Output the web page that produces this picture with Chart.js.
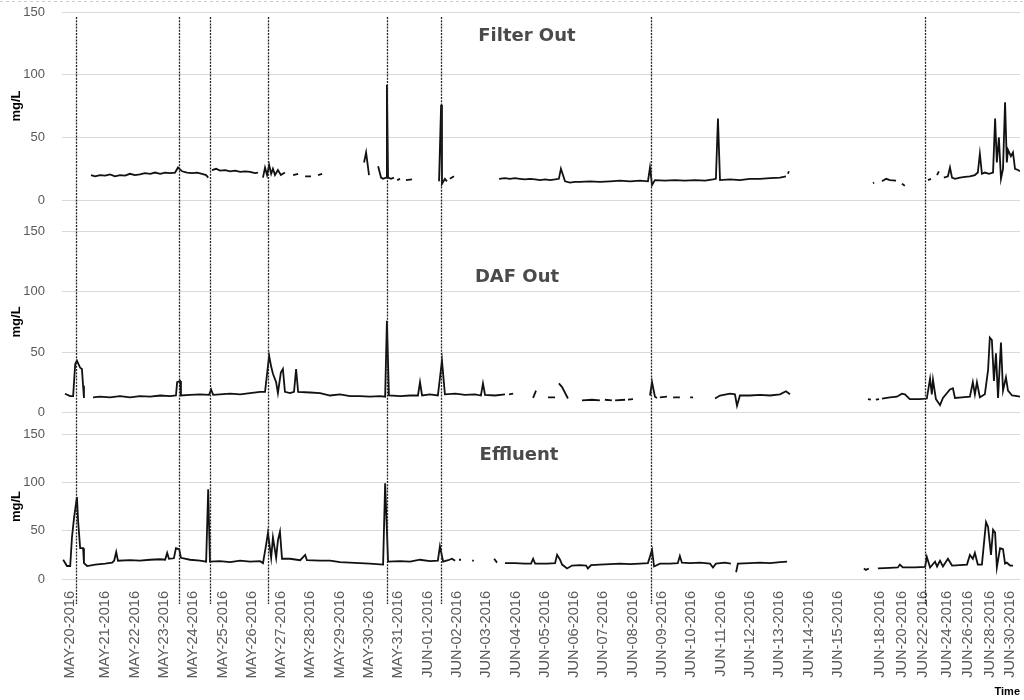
<!DOCTYPE html>
<html>
<head>
<meta charset="utf-8">
<script src="https://cdn.jsdelivr.net/npm/chart.js@4.4.1/dist/chart.umd.min.js"></script>
<style>
  html, body { margin: 0; padding: 0; background: #fff; }
</style>
</head>
<body>
<canvas id="chart" width="1024" height="700"></canvas>
<script>
// x is the position along the sheet's time axis, in day slots from MAY-20
// (after JUN-15 the source axis is squeezed, two days per slot-and-a-bit)
const tickLabels = [
    'MAY-20-2016', 'MAY-21-2016', 'MAY-22-2016', 'MAY-23-2016', 'MAY-24-2016', 'MAY-25-2016',
    'MAY-26-2016', 'MAY-27-2016', 'MAY-28-2016', 'MAY-29-2016', 'MAY-30-2016', 'MAY-31-2016',
    'JUN-01-2016', 'JUN-02-2016', 'JUN-03-2016', 'JUN-04-2016', 'JUN-05-2016', 'JUN-06-2016',
    'JUN-07-2016', 'JUN-08-2016', 'JUN-09-2016', 'JUN-10-2016', 'JUN-11-2016', 'JUN-12-2016',
    'JUN-13-2016', 'JUN-14-2016', 'JUN-15-2016', 'JUN-18-2016', 'JUN-20-2016', 'JUN-22-2016',
    'JUN-24-2016', 'JUN-26-2016', 'JUN-28-2016', 'JUN-30-2016'
];
const tickPos = [
    -0.2, 1, 2, 3, 4, 5, 6, 7, 8, 9, 10, 11, 12, 13, 14, 15, 16, 17, 18, 19, 20,
    21, 22, 23, 24, 25, 26, 27.44, 28.19, 28.91, 29.73, 30.44, 31.19, 31.87
];
// dashed event markers
const eventPos = [0, 3.52, 4.57, 6.55, 10.61, 12.46, 19.62, 28.98];
const yTicks = [0, 50, 100, 150];
const panelNames = ['Filter Out', 'DAF Out', 'Effluent'];

// [x, mg/L], null = no data
const filterOut = [
    [0.51,20],[0.65,19],[0.82,20],[0.99,19.5],[1.16,20.5],[1.33,19],[1.50,20],[1.67,19.5],[1.84,21],
    [2.01,20],[2.18,20.5],[2.35,21.5],[2.53,21],[2.70,22],[2.87,21],[3.04,22],[3.21,21.5],[3.38,22],
    [3.48,26],[3.62,23],[3.79,22],[3.96,21.5],[4.13,22],[4.30,21],[4.44,20],[4.51,18],[4.57,null],
    [4.64,24],[4.78,25],[4.91,23.5],[5.09,24],[5.26,23],[5.43,23.5],[5.60,22.5],[5.77,23],[5.94,22.5],
    [6.11,21.5],[6.21,22],[6.30,null],
    [6.38,18],[6.45,26],[6.52,20],[6.59,28],[6.66,21],[6.72,25],[6.79,20],[6.89,24],[6.99,20],[7.13,22],[7.27,null],
    [7.41,20],[7.58,21],[7.70,null],
    [7.82,19],[8.02,19],[8.14,null],
    [8.26,20],[8.40,21],[9.0,null],
    [9.83,30],[9.90,38],[10.00,20],[10.15,null],
    [10.31,27],[10.41,18],[10.48,17],[10.58,18],[10.61,92],[10.65,18],[10.75,17],[10.85,18],[10.90,null],
    [10.96,16],[11.06,17],[11.16,null],
    [11.26,16],[11.47,16.5],[11.9,null],
    [12.39,15],[12.46,76],[12.49,13],[12.59,17],[12.66,15],[12.71,null],
    [12.76,17],[12.90,19],[13.6,null],
    [14.44,17],[14.64,17.5],[14.81,17],[14.98,17.5],[15.15,17],[15.32,16.5],[15.49,17],[15.67,16.5],
    [15.84,16],[16.01,16.5],[16.18,16],[16.35,16.5],[16.48,17],[16.55,25],[16.62,20],[16.69,15],
    [16.86,14],[17.03,14.5],[17.20,14.5],[17.54,15],[17.88,14.5],[18.23,15],[18.57,15.5],[18.91,15],
    [19.25,15.5],[19.52,15],[19.59,26],[19.66,12],[19.76,16],[20.10,15.5],[20.44,16],[20.78,15.5],
    [21.13,16],[21.47,15.5],[21.74,16.5],[21.84,17],[21.91,65],[21.98,16],[22.32,16.5],[22.66,16],
    [23.00,17],[23.34,17],[23.69,17.5],[24.03,18],[24.23,19],[24.27,null],
    [24.30,21],[24.33,23],[25.5,null],
    [27.20,13.5],[27.24,14],[27.38,null],
    [27.51,15],[27.65,17],[27.78,16],[27.99,15.5],[28.10,null],
    [28.19,13],[28.29,11.5],[28.7,null],
    [29.08,16],[29.18,17],[29.28,null],
    [29.39,20],[29.45,23],[29.55,null],
    [29.62,18],[29.76,19],[29.83,26],[29.90,18],[30.00,17],[30.17,18],[30.34,18.5],[30.51,19],
    [30.68,20],[30.78,22],[30.85,37],[30.92,21],[31.02,22],[31.16,21],[31.30,22],[31.37,65],
    [31.43,30],[31.50,50],[31.57,17],[31.64,25],[31.71,78],[31.77,30],[31.81,40],[31.91,35],
    [31.98,38],[32.05,25],[32.15,24],[32.22,23]
];

const dafOut = [
    [-0.38,15.5],[-0.20,13.5],[-0.10,13.5],[-0.03,40],[0.03,43],[0.14,37],[0.20,36],[0.24,22],[0.27,12],[0.35,null],
    [0.58,12.5],[0.82,13],[1.16,12.5],[1.50,13.5],[1.84,12.5],[2.18,13.5],[2.53,13],[2.87,14],[3.21,13.5],
    [3.41,14],[3.45,25],[3.55,26],[3.58,14],[3.89,14.5],[4.23,15],[4.54,14.5],[4.61,19],[4.68,14.5],
    [4.91,15],[5.26,15.5],[5.60,15],[5.94,16],[6.28,17],[6.45,17],[6.59,47],[6.66,38],[6.72,32],
    [6.83,25],[6.89,16],[6.99,33],[7.06,36],[7.13,17],[7.30,16],[7.44,17],[7.51,36],[7.58,17],
    [7.99,16.5],[8.33,16],[8.67,14],[9.01,15],[9.35,13.5],[9.69,13.5],[10.03,13],[10.38,13.5],
    [10.55,13],[10.61,76],[10.68,14],[11.06,13.5],[11.40,14],[11.67,14],[11.74,25],[11.81,14],
    [12.08,15],[12.35,14],[12.49,43],[12.59,15],[12.94,15.5],[13.28,14.5],[13.62,15],[13.82,14],
    [13.89,24],[13.96,14.5],[14.30,14],[14.64,15],[14.71,null],
    [14.78,15],[14.92,15.5],[15.2,null],
    [15.60,12],[15.70,18],[15.9,null],
    [16.11,12.5],[16.35,12.5],[16.42,null],
    [16.48,24],[16.59,21],[16.79,11.5],[17.0,null],
    [17.27,10],[17.61,10.5],[17.88,10],[17.96,null],
    [18.05,10.5],[18.29,10],[18.35,null],
    [18.40,10],[18.74,10.5],[18.79,null],
    [18.84,10.5],[19.01,11],[19.3,null],
    [19.59,14],[19.66,25],[19.76,13],[19.83,12],[19.88,null],
    [19.93,12.5],[20.17,13],[20.27,null],
    [20.38,12.5],[20.61,12.5],[20.8,null],
    [20.96,12.5],[21.06,12.5],[21.4,null],
    [21.81,11.5],[21.98,14],[22.32,15.5],[22.49,15],[22.56,5.5],[22.66,14],[23.00,14],[23.34,14.5],
    [23.69,14],[24.03,15],[24.23,17.5],[24.37,15],[25.5,null],
    [27.03,11],[27.13,10.5],[27.2,null],
    [27.30,10.5],[27.41,11],[27.46,null],
    [27.51,11.5],[27.78,12.5],[28.02,13],[28.19,15.5],[28.29,15],[28.46,11],[28.81,11],[29.04,11.5],
    [29.15,28],[29.21,15],[29.25,27],[29.35,11],[29.49,6],[29.59,12],[29.83,19],[29.93,20],[30.00,12],
    [30.24,12.5],[30.51,13],[30.61,25],[30.68,15],[30.75,25],[30.85,12.5],[31.02,15],[31.13,35],
    [31.19,62],[31.26,60],[31.33,26],[31.40,49],[31.47,12],[31.57,58],[31.64,18],[31.74,29],
    [31.81,18],[31.95,14],[32.12,13.5],[32.22,13]
];

const effluent = [
    [-0.44,20],[-0.31,13.5],[-0.20,13.5],[-0.14,43],[-0.07,63],[0.03,85],[0.07,60],[0.14,32],[0.24,32],
    [0.27,16.5],[0.38,13.5],[0.65,15],[0.99,16],[1.23,17],[1.30,19],[1.37,28],[1.43,19],[1.84,19.5],
    [2.18,19],[2.53,20],[2.87,20.5],[3.04,20],[3.11,27],[3.17,21],[3.34,21.5],[3.41,32],[3.52,31],
    [3.58,22],[3.89,20],[4.23,19],[4.44,18],[4.51,93],[4.57,18],[4.91,18.5],[5.26,17.5],[5.60,19],
    [5.94,18],[6.28,18.5],[6.38,16.5],[6.48,34],[6.55,48],[6.66,22],[6.72,43],[6.83,22],[6.89,40],
    [6.96,49],[7.03,21],[7.30,21],[7.65,19.5],[7.82,25],[7.88,19.5],[8.33,19],[8.67,19],[9.01,17.5],
    [9.35,17],[9.69,16.5],[10.03,16],[10.48,15],[10.55,99],[10.65,18],[11.06,18.5],[11.40,18],
    [11.74,20],[12.08,18.5],[12.35,19],[12.42,34],[12.53,18],[12.70,19.5],[12.83,21],[12.94,19],[13.0,null],
    [13.07,20],[13.14,20],[13.3,null],
    [13.52,19],[13.58,19],[13.9,null],
    [14.27,21],[14.37,17],[14.5,null],
    [14.64,16.5],[14.98,16.5],[15.32,16],[15.53,16],[15.60,21],[15.67,16],[16.08,16],[16.35,16.5],
    [16.42,25],[16.52,20],[16.59,15],[16.76,11],[16.93,14],[17.20,14.5],[17.41,14],[17.47,11],
    [17.58,14.5],[17.88,15],[18.23,15.5],[18.57,16],[18.91,15.5],[19.25,16],[19.52,16.5],[19.66,30],
    [19.73,13],[19.93,16],[20.27,16],[20.54,16.5],[20.61,24],[20.68,17],[20.96,16.5],[21.30,17],
    [21.64,16],[21.74,12],[21.84,16],[22.15,17],[22.35,16],[22.45,null],
    [22.53,7],[22.59,16],[23.00,16.5],[23.34,17],[23.69,16.5],[24.03,17.5],[24.27,18],[25.5,null],
    [26.89,11],[26.96,9.5],[27.06,11],[27.2,null],
    [27.37,11],[27.78,11.5],[28.05,12],[28.12,15],[28.22,12],[28.63,12],[28.98,12.5],[29.04,23],
    [29.15,12],[29.32,18],[29.39,13],[29.49,19],[29.59,13],[29.76,21],[29.90,14],[30.17,14.5],
    [30.41,15],[30.51,25],[30.61,21],[30.68,27],[30.78,15],[30.92,15],[31.06,59],[31.13,54],
    [31.23,25],[31.30,51],[31.37,48],[31.43,12],[31.54,32],[31.64,31],[31.71,16],[31.77,17],
    [31.88,14],[31.98,14]
];

function toPoints(rows) {
    return rows.map(r => ({ x: r[0], y: r[1] }));
}

function seriesStyle() {
    return {
        borderColor: '#111',
        borderWidth: 1.8,
        pointRadius: 0,
        tension: 0,
        spanGaps: false,
        fill: false
    };
}

const tickFont = { family: 'Liberation Sans', size: 13 };

// one y axis per panel, stacked on the left
function panelAxis(min, weight) {
    return {
        type: 'linear',
        position: 'left',
        stack: 'panels',
        stackWeight: weight,
        min: min,
        max: 150,
        afterBuildTicks: s => { s.ticks = yTicks.map(v => ({ value: v })); },
        afterFit: s => {
            s.width = 56;
            s.paddingTop = 0;
            s.paddingBottom = 0;
        },
        ticks: { color: '#595959', padding: 17, font: tickFont },
        grid: { color: '#d9d9d9', lineWidth: 1, drawTicks: false },
        border: { display: false }
    };
}

// event markers, panel titles and the mg/L labels
const overlay = {
    id: 'overlay',
    afterDraw(chart) {
        const { ctx, chartArea, scales } = chart;
        const x = scales.x;
        const panels = [scales.yFilter, scales.yDaf, scales.yEff];
        ctx.save();

        // faint frame line along the top
        ctx.strokeStyle = '#cccccc';
        ctx.lineWidth = 1;
        ctx.setLineDash([3, 3]);
        ctx.beginPath();
        ctx.moveTo(0, 1.5);
        ctx.lineTo(chart.width, 1.5);
        ctx.stroke();

        ctx.strokeStyle = '#222';
        ctx.lineWidth = 1.3;
        ctx.setLineDash([2, 1.2]);
        const top = scales.yFilter.getPixelForValue(146);
        const bottom = chartArea.bottom + 23;
        eventPos.forEach(p => {
            const px = Math.round(x.getPixelForValue(p)) + 0.5;
            ctx.beginPath();
            ctx.moveTo(px, top);
            ctx.lineTo(px, bottom);
            ctx.stroke();
        });
        ctx.setLineDash([]);

        // panel names
        const titleAt = [[15.39, 131], [15.05, 112], [15.12, 128]];
        ctx.fillStyle = '#4a4a4a';
        ctx.font = 'bold 18px "DejaVu Sans"';
        ctx.textAlign = 'center';
        ctx.textBaseline = 'middle';
        panelNames.forEach((name, i) => {
            ctx.fillText(name, x.getPixelForValue(titleAt[i][0]), panels[i].getPixelForValue(titleAt[i][1]));
        });

        // unit label, centred on 0..150 of each panel
        ctx.fillStyle = '#000';
        ctx.font = 'bold 13px "Liberation Sans"';
        panels.forEach(s => {
            const cy = (s.getPixelForValue(0) + s.getPixelForValue(150)) / 2;
            ctx.save();
            ctx.translate(16, cy);
            ctx.rotate(-Math.PI / 2);
            ctx.fillText('mg/L', 0, 0);
            ctx.restore();
        });
        ctx.restore();
    }
};

new Chart(document.getElementById('chart'), {
    type: 'line',
    data: {
        datasets: [
            { label: panelNames[0], data: toPoints(filterOut), yAxisID: 'yFilter', ...seriesStyle() },
            { label: panelNames[1], data: toPoints(dafOut), yAxisID: 'yDaf', ...seriesStyle() },
            { label: panelNames[2], data: toPoints(effluent), yAxisID: 'yEff', ...seriesStyle() }
        ]
    },
    options: {
        responsive: false,
        animation: false,
        devicePixelRatio: 1,
        layout: { padding: { top: 12, left: 6, right: 4, bottom: 0 } },
        plugins: {
            legend: { display: false },
            tooltip: { enabled: false }
        },
        scales: {
            x: {
                type: 'linear',
                min: -0.48,
                max: 32.22,
                afterBuildTicks: s => { s.ticks = tickPos.map(v => ({ value: v })); },
                afterFit: s => {
                    s.height = 119;
                    s.paddingLeft = 0;
                    s.paddingRight = 0;
                },
                ticks: {
                    autoSkip: false,
                    minRotation: 90,
                    maxRotation: 90,
                    padding: 2,
                    color: '#595959',
                    font: { family: 'Liberation Sans', size: 14.6 },
                    callback: (v, i) => tickLabels[i]
                },
                grid: { display: false },
                border: { display: false },
                title: {
                    display: true,
                    text: 'Time',
                    align: 'end',
                    color: '#000',
                    font: { family: 'Liberation Sans', size: 11, weight: 'bold' },
                    padding: { top: 6, bottom: 1 }
                }
            },
            // later-defined stacked axes sit higher up
            yEff: panelAxis(-2, 146.9),
            yDaf: panelAxis(-18, 202.6),
            yFilter: panelAxis(-25, 219.5)
        }
    },
    plugins: [overlay]
});
</script>
</body>
</html>
